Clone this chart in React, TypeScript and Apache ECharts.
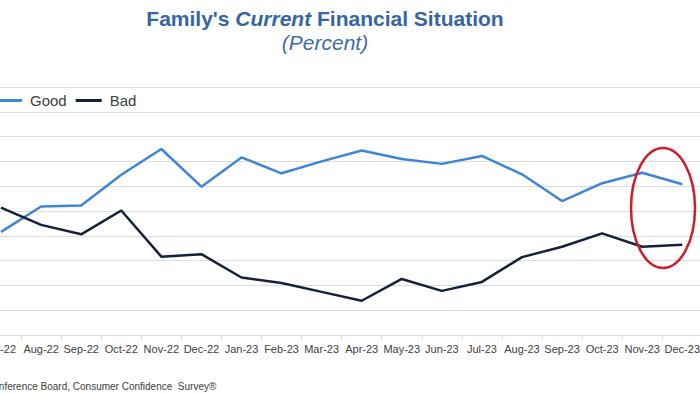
import React, { useEffect, useRef } from "react";
import * as echarts from "echarts";

const months = [
  "Jul-22", "Aug-22", "Sep-22", "Oct-22", "Nov-22", "Dec-22", "Jan-23", "Feb-23", "Mar-23",
  "Apr-23", "May-23", "Jun-23", "Jul-23", "Aug-23", "Sep-23", "Oct-23", "Nov-23", "Dec-23",
];
const good = [20.8, 25.9, 26.1, 32.3, 37.5, 29.9, 35.8, 32.6, 35.0, 37.2, 35.5, 34.5, 36.1, 32.4, 27.0, 30.6, 32.7, 30.4];
const bad = [25.7, 22.2, 20.3, 25.1, 15.8, 16.3, 11.6, 10.5, 8.7, 6.9, 11.3, 8.9, 10.7, 15.7, 17.8, 20.5, 17.8, 18.2];
const subtitleText = "(Percent)";
const sourceText = "Source: The Conference Board, Consumer Confidence  Survey®";

const FONT = "'Liberation Sans', Arial, sans-serif";
const SHIFT = 19; // chart canvas starts this many px left of the visible window

export default function App() {
  const ref = useRef<HTMLDivElement>(null);
  useEffect(() => {
    if (!ref.current) return;
    const chart = echarts.init(ref.current, null, { renderer: "svg" });
    chart.setOption({
      animation: false,
      backgroundColor: "#ffffff",
      textStyle: { fontFamily: FONT },
      title: {
        text: "{a|Family's }{b|Current}{a| Financial Situation}",
        subtext: subtitleText,
        left: 320 + SHIFT,
        textAlign: "center",
        top: 3,
        itemGap: 3,
        textStyle: {
          rich: {
            a: { fontSize: 21, fontWeight: "bold", color: "#3565A3", fontFamily: FONT },
            b: { fontSize: 21, fontWeight: "bold", fontStyle: "italic", color: "#3565A3", fontFamily: FONT },
          },
        },
        subtextStyle: { fontSize: 21, fontStyle: "italic", color: "#3F6BA6", fontFamily: FONT },
      },
      legend: {
        left: -9 + SHIFT,
        top: 88,
        icon: "rect",
        itemWidth: 26,
        itemHeight: 3,
        itemGap: 9,
        textStyle: { fontSize: 15, color: "#404040", padding: [0, 0, 0, 3], fontFamily: FONT },
        data: ["Good", "Bad"],
      },
      grid: { left: 0, right: 0, top: 87, bottom: 59 },
      xAxis: {
        type: "category",
        data: months,
        boundaryGap: true,
        axisLine: { lineStyle: { color: "#D9D9D9", width: 1 } },
        axisTick: { show: true, length: 5, lineStyle: { color: "#D9D9D9" } },
        axisLabel: { color: "#404040", fontSize: 11, margin: 8, interval: 0, fontFamily: FONT },
      },
      yAxis: {
        type: "value",
        min: 0,
        max: 50,
        interval: 5,
        axisLabel: { show: false },
        axisLine: { show: false },
        axisTick: { show: false },
        splitLine: { lineStyle: { color: "#DCDCDC", width: 1 } },
      },
      series: [
        {
          name: "Good",
          type: "line",
          data: good,
          symbol: "none",
          lineStyle: { color: "#3D85D6", width: 2.5 },
          itemStyle: { color: "#3D85D6" },
        },
        {
          name: "Bad",
          type: "line",
          data: bad,
          symbol: "none",
          lineStyle: { color: "#15203A", width: 2.5 },
          itemStyle: { color: "#15203A" },
        },
      ],
      graphic: [
        {
          type: "ellipse",
          shape: { cx: 663 + SHIFT, cy: 208, rx: 32, ry: 60 },
          style: { fill: "none", stroke: "#CC1F2D", lineWidth: 2.5 },
          z: 100,
        },
        {
          type: "text",
          x: -71 + SHIFT,
          y: 386,
          style: {
            text: sourceText,
            fontSize: 10,
            fill: "#404040",
            fontFamily: FONT,
            verticalAlign: "middle",
          },
        },
      ],
    });
    return () => chart.dispose();
  }, []);
  return (
    <div
      style={{ position: "fixed", left: 0, top: 0, width: 700, height: 394, overflow: "hidden", background: "#fff" }}
    >
      <div
        ref={ref}
        style={{ position: "absolute", left: -SHIFT, top: 0, width: 722, height: 394 }}
      />
    </div>
  );
}
